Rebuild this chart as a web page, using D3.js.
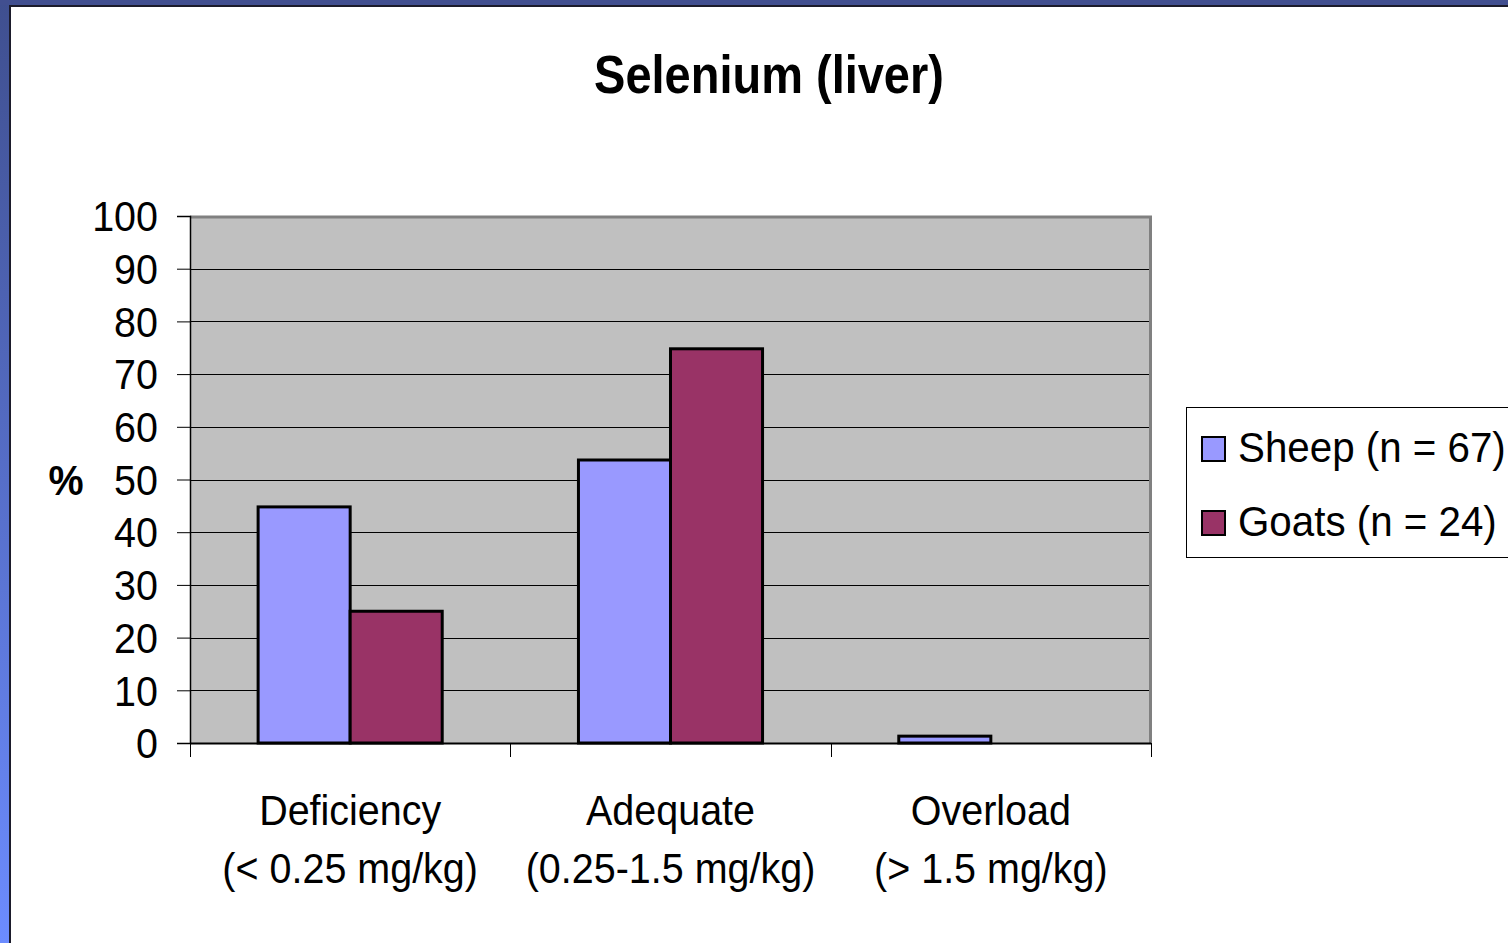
<!DOCTYPE html>
<html>
<head>
<meta charset="utf-8">
<script src="https://cdn.jsdelivr.net/npm/d3@7"></script>
<style>
  html, body { margin: 0; padding: 0; background: #fff; overflow: hidden; }
  svg { display: block; font-family: "Liberation Sans", Arial, sans-serif; }
</style>
</head>
<body>
<svg id="chart" width="1508" height="943"></svg>
<script>
// chart data
const categories = ['Deficiency', 'Adequate', 'Overload'];
const categoryRanges = ['(< 0.25 mg/kg)', '(0.25-1.5 mg/kg)', '(> 1.5 mg/kg)'];
const seriesNames = ['Sheep (n = 67)', 'Goats (n = 24)'];
const sheepValues = [44.8, 53.7, 1.3];
const goatValues = [25, 74.8, 0];
const yTickValues = [0, 10, 20, 30, 40, 50, 60, 70, 80, 90, 100];
const seriesColors = ['#9999ff', '#993366'];

const svg = d3.select('#chart');
const margin = { left: 190, right: 357, top: 216, bottom: 200 };
const W = 1508, H = 943;
const plot = { x0: margin.left, x1: W - margin.right, y0: margin.top, y1: H - margin.bottom };
const narrow = 0.94; // text in the slide is slightly condensed

// slide frame
const defs = svg.append('defs');
const grad = defs.append('linearGradient').attr('id', 'sideGrad')
    .attr('x1', 0).attr('y1', 0).attr('x2', 0).attr('y2', 1);
grad.append('stop').attr('offset', 0).attr('stop-color', '#3f4f8f');
grad.append('stop').attr('offset', 1).attr('stop-color', '#6c8cff');
svg.append('rect').attr('x', 0).attr('y', 0).attr('width', 10).attr('height', H).attr('fill', 'url(#sideGrad)');
svg.append('rect').attr('x', 0).attr('y', 0).attr('width', W).attr('height', 5).attr('fill', '#414f90');
svg.append('rect').attr('x', 9).attr('y', 5).attr('width', 2).attr('height', H).attr('fill', '#1b1b2b');
svg.append('rect').attr('x', 9).attr('y', 5).attr('width', W).attr('height', 2).attr('fill', '#1b1b2b');

// scales
const x0 = d3.scaleBand().domain(categories).range([plot.x0, plot.x1]).padding(0);
const x1 = d3.scaleBand().domain(seriesNames).range([0, x0.bandwidth()])
    .paddingInner(0).paddingOuter(0.74);
const y = d3.scaleLinear().domain([0, 100]).range([plot.y1, plot.y0]);

// title
svg.append('text')
    .attr('transform', 'translate(769,93) scale(0.87,1)')
    .attr('text-anchor', 'middle')
    .attr('font-size', 54).attr('font-weight', 'bold')
    .text('Selenium (liver)');

// plot background
svg.append('rect')
    .attr('x', plot.x0).attr('y', plot.y0)
    .attr('width', plot.x1 - plot.x0).attr('height', plot.y1 - plot.y0)
    .attr('fill', '#c0c0c0');

// gridlines
svg.append('g').selectAll('line')
    .data(yTickValues.filter(d => d > 0 && d < 100))
    .join('line')
    .attr('x1', plot.x0).attr('x2', plot.x1)
    .attr('y1', d => Math.round(y(d)) + 0.5).attr('y2', d => Math.round(y(d)) + 0.5)
    .attr('stroke', '#000').attr('stroke-width', 1);

// top / right border
svg.append('path')
    .attr('d', `M${plot.x0},${plot.y0 + 1} H${plot.x1 - 0.5} V${plot.y1}`)
    .attr('fill', 'none').attr('stroke', '#808080').attr('stroke-width', 3);

// bars
const rows = categories.map((c, i) => ({ cat: c, vals: [sheepValues[i], goatValues[i]] }));
const groups = svg.append('g').selectAll('g')
    .data(rows).join('g')
    .attr('transform', d => `translate(${x0(d.cat)},0)`);
groups.selectAll('rect')
    .data(d => d.vals.map((v, j) => ({ name: seriesNames[j], v, j })).filter(e => e.v > 0))
    .join('rect')
    .attr('x', d => x1(d.name))
    .attr('y', d => y(d.v))
    .attr('width', x1.bandwidth())
    .attr('height', d => y(0) - y(d.v))
    .attr('fill', d => seriesColors[d.j])
    .attr('stroke', '#000').attr('stroke-width', 3);

// y axis
const yAxis = svg.append('g')
    .attr('transform', `translate(${plot.x0},0)`)
    .call(d3.axisLeft(y).tickValues(yTickValues).tickSize(13).tickPadding(19));
yAxis.select('.domain').attr('stroke', '#000').attr('stroke-width', 1.5);
yAxis.selectAll('.tick line').attr('stroke', '#000');
yAxis.selectAll('.tick text')
    .attr('x', 0)
    .attr('transform', `translate(-32,0) scale(${narrow},1)`)
    .attr('font-size', 42).attr('fill', '#000')
    .attr('font-family', '"Liberation Sans", Arial, sans-serif')
    .attr('dy', '0.35em');

// % label
svg.append('text')
    .attr('transform', `translate(66,495) scale(${narrow},1)`)
    .attr('text-anchor', 'middle')
    .attr('font-size', 42).attr('font-weight', 'bold')
    .text('%');

// x axis
const xTicks = categories.map(c => x0(c)).concat([plot.x1]);
svg.append('line')
    .attr('x1', plot.x0).attr('x2', plot.x1)
    .attr('y1', plot.y1 + 0.5).attr('y2', plot.y1 + 0.5)
    .attr('stroke', '#000').attr('stroke-width', 2);
svg.append('g').selectAll('line')
    .data(xTicks).join('line')
    .attr('x1', d => Math.round(d) + 0.5).attr('x2', d => Math.round(d) + 0.5)
    .attr('y1', plot.y1).attr('y2', plot.y1 + 14)
    .attr('stroke', '#000');

const catLabels = svg.append('g').selectAll('text')
    .data(categories).join('text')
    .attr('transform', d => `translate(${x0(d) + x0.bandwidth() / 2},0) scale(${narrow},1)`)
    .attr('text-anchor', 'middle')
    .attr('font-size', 42);
catLabels.append('tspan')
    .attr('x', 0).attr('y', 825)
    .text(d => d);
catLabels.append('tspan')
    .attr('x', 0).attr('y', 883)
    .text((d, i) => categoryRanges[i]);

// legend
const legend = svg.append('g').attr('transform', 'translate(1186,407)');
legend.append('rect')
    .attr('x', 0.5).attr('y', 0.5).attr('width', 340).attr('height', 150)
    .attr('fill', '#fff').attr('stroke', '#000').attr('stroke-width', 1);
const items = legend.selectAll('g.item')
    .data(seriesNames).join('g')
    .attr('class', 'item')
    .attr('transform', (d, i) => `translate(0,${30 + i * 74})`);
items.append('rect')
    .attr('x', 16).attr('y', 0).attr('width', 23).attr('height', 24)
    .attr('fill', (d, i) => seriesColors[i])
    .attr('stroke', '#000').attr('stroke-width', 2);
items.append('text')
    .attr('transform', `translate(52,25) scale(0.96,1)`)
    .attr('font-size', 42)
    .text(d => d);
</script>
</body>
</html>
